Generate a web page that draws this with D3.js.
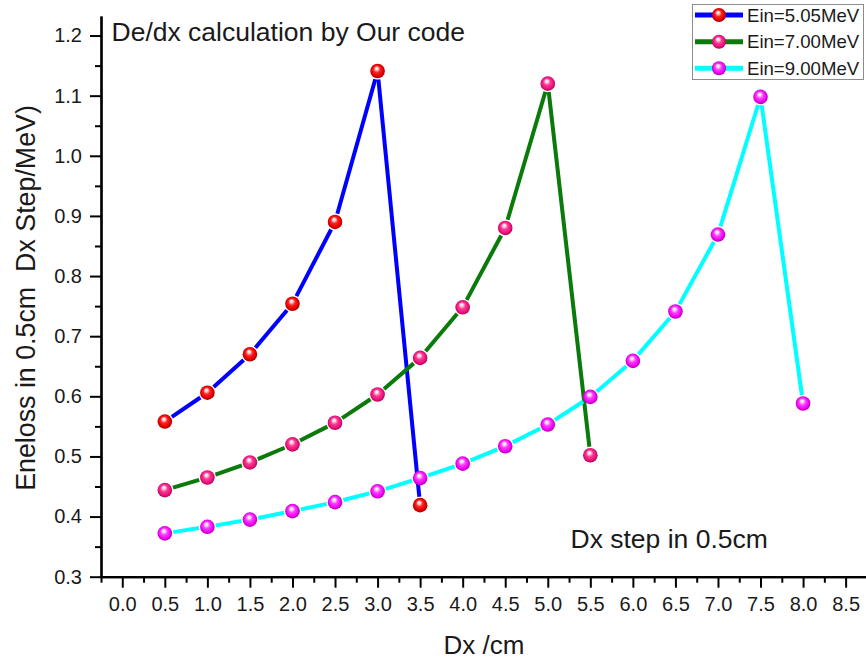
<!DOCTYPE html>
<html>
<head>
<meta charset="utf-8">
<script src="https://cdn.jsdelivr.net/npm/d3@7"></script>
<style>
  html, body { margin: 0; padding: 0; background: #fff; }
  svg { display: block; }
  text { font-family: "Liberation Sans", Arial, Helvetica, sans-serif; fill: #1a1a1a; }
</style>
</head>
<body>
<svg id="chart" width="866" height="662"></svg>
<script>
// Energy loss per 0.5 cm step, three incident energies
const steps505 = [0.5, 1.0, 1.5, 2.0, 2.5, 3.0, 3.5];
const eloss505 = [0.558, 0.606, 0.670, 0.754, 0.890, 1.141, 0.419];

const steps700 = [0.5, 1.0, 1.5, 2.0, 2.5, 3.0, 3.5, 4.0, 4.5, 5.0, 5.5];
const eloss700 = [0.444, 0.465, 0.490, 0.520, 0.556, 0.603, 0.664, 0.748, 0.880, 1.120, 0.502];

const steps900 = [0.5, 1.0, 1.5, 2.0, 2.5, 3.0, 3.5, 4.0, 4.5, 5.0, 5.5, 6.0, 6.5, 7.0, 7.5, 8.0];
const eloss900 = [0.372, 0.383, 0.395, 0.409, 0.424, 0.442, 0.464, 0.488, 0.517, 0.553, 0.599, 0.659, 0.741, 0.869, 1.098, 0.588];

const seriesNames = ["Ein=5.05MeV", "Ein=7.00MeV", "Ein=9.00MeV"];

// Axis ticks
const xMajorTicks = [0.0, 0.5, 1.0, 1.5, 2.0, 2.5, 3.0, 3.5, 4.0, 4.5, 5.0, 5.5, 6.0, 6.5, 7.0, 7.5, 8.0, 8.5];
const xMinorTicks = [-0.25, 0.25, 0.75, 1.25, 1.75, 2.25, 2.75, 3.25, 3.75, 4.25, 4.75, 5.25, 5.75, 6.25, 6.75, 7.25, 7.75, 8.25, 8.75];
const yMajorTicks = [0.3, 0.4, 0.5, 0.6, 0.7, 0.8, 0.9, 1.0, 1.1, 1.2];
const yMinorTicks = [0.35, 0.45, 0.55, 0.65, 0.75, 0.85, 0.95, 1.05, 1.15];

const titleText = "De/dx calculation by Our code";
const noteText = "Dx step in 0.5cm";
const xTitle = "Dx /cm";
const yTitle = "Eneloss in 0.5cm  Dx Step/MeV)";

const svg = d3.select("#chart");

const x = d3.scaleLinear().domain([-0.25, 8.75]).range([101, 866.9]);
const y = d3.scaleLinear().domain([0.3, 1.2325]).range([576.7, 16]);

const styles = [
  { line: "#0000ff", ball: ["#ffd0d0", "#ff2020", "#e00000", "#900000"] },
  { line: "#0a7a0a", ball: ["#ffd6ea", "#ff3a92", "#e8107a", "#950048"] },
  { line: "#00ffff", ball: ["#ffd8ff", "#ff3cff", "#ee00ee", "#960096"] }
];

// Glossy ball gradients for the symbols
const defs = svg.append("defs");
styles.forEach((s, i) => {
  const g = defs.append("radialGradient")
    .attr("id", "ball" + i)
    .attr("cx", "0.5").attr("cy", "0.5").attr("r", "0.55")
    .attr("fx", "0.42").attr("fy", "0.3");
  g.append("stop").attr("offset", "0%").attr("stop-color", "#ffffff");
  g.append("stop").attr("offset", "18%").attr("stop-color", s.ball[0]);
  g.append("stop").attr("offset", "42%").attr("stop-color", s.ball[1]);
  g.append("stop").attr("offset", "75%").attr("stop-color", s.ball[2]);
  g.append("stop").attr("offset", "100%").attr("stop-color", s.ball[3]);
});

// Axes
const axisG = svg.append("g").attr("class", "axes");

axisG.append("g")
  .attr("transform", `translate(0,${y(0.3)})`)
  .call(d3.axisBottom(x).tickValues(xMajorTicks).tickSize(11).tickPadding(9).tickFormat(d3.format(".1f")).tickSizeOuter(0));
axisG.append("g")
  .attr("transform", `translate(0,${y(0.3)})`)
  .call(d3.axisBottom(x).tickValues(xMinorTicks).tickSize(6).tickFormat("").tickSizeOuter(0));

axisG.append("g")
  .attr("transform", `translate(${x(-0.25)},0)`)
  .call(d3.axisLeft(y).tickValues(yMajorTicks).tickSize(11).tickPadding(8).tickFormat(d3.format(".1f")).tickSizeOuter(0));
axisG.append("g")
  .attr("transform", `translate(${x(-0.25)},0)`)
  .call(d3.axisLeft(y).tickValues(yMinorTicks).tickSize(6).tickFormat("").tickSizeOuter(0));

axisG.selectAll(".domain").attr("stroke", "#000").attr("stroke-width", 2.2);
axisG.selectAll(".tick line").attr("stroke", "#000").attr("stroke-width", 2);
axisG.selectAll(".tick text")
  .style("font-family", "'Liberation Sans', Arial, sans-serif")
  .style("font-size", "20px")
  .attr("fill", "#2e2e2e");

// Series: line segments stop short of each symbol
const gap = 8.5;
const seg = d3.line().x(d => d[0]).y(d => d[1]);
const allSeries = [
  { xs: steps505, ys: eloss505 },
  { xs: steps700, ys: eloss700 },
  { xs: steps900, ys: eloss900 }
];

allSeries.forEach((s, i) => {
  const pts = s.xs.map((v, k) => [x(v), y(s.ys[k])]);
  const g = svg.append("g").attr("class", "series" + i);
  for (let k = 0; k < pts.length - 1; k++) {
    const [x0, y0] = pts[k], [x1, y1] = pts[k + 1];
    const len = Math.hypot(x1 - x0, y1 - y0);
    const ux = (x1 - x0) / len, uy = (y1 - y0) / len;
    g.append("path")
      .attr("d", seg([[x0 + ux * gap, y0 + uy * gap], [x1 - ux * gap, y1 - uy * gap]]))
      .attr("fill", "none")
      .attr("stroke", styles[i].line)
      .attr("stroke-width", 4)
      .attr("stroke-linecap", "butt");
  }
});

allSeries.forEach((s, i) => {
  svg.append("g").selectAll("circle")
    .data(s.xs.map((v, k) => [v, s.ys[k]]))
    .join("circle")
    .attr("cx", d => x(d[0]))
    .attr("cy", d => y(d[1]))
    .attr("r", 7.3)
    .attr("fill", `url(#ball${i})`);
});

// Texts
svg.append("text").attr("x", 111.5).attr("y", 40.7)
  .style("font-size", "26.5px").text(titleText);
svg.append("text").attr("x", 570.5).attr("y", 547.7)
  .style("font-size", "26.5px").text(noteText);
svg.append("text").attr("x", 484).attr("y", 654).attr("text-anchor", "middle")
  .style("font-size", "26px").text(xTitle);
svg.append("text")
  .attr("transform", "translate(35,298) rotate(-90)")
  .attr("text-anchor", "middle")
  .style("font-size", "26.8px")
  .style("white-space", "pre")
  .attr("xml:space", "preserve")
  .text(yTitle);

// Legend
const lg = svg.append("g").attr("class", "legend");
lg.append("rect").attr("x", 692.5).attr("y", 4.5).attr("width", 171).attr("height", 75)
  .attr("fill", "#fff").attr("stroke", "#8c8c8c").attr("stroke-width", 1);
const rowY = [15, 41.7, 68.3];
seriesNames.forEach((name, i) => {
  lg.append("line").attr("x1", 695).attr("x2", 743).attr("y1", rowY[i]).attr("y2", rowY[i])
    .attr("stroke", styles[i].line).attr("stroke-width", 5);
  lg.append("circle").attr("cx", 719).attr("cy", rowY[i]).attr("r", 7)
    .attr("fill", `url(#ball${i})`);
  lg.append("text").attr("x", 747).attr("y", rowY[i]).attr("dy", "0.35em")
    .style("font-size", "18.6px").text(name);
});
</script>
</body>
</html>
